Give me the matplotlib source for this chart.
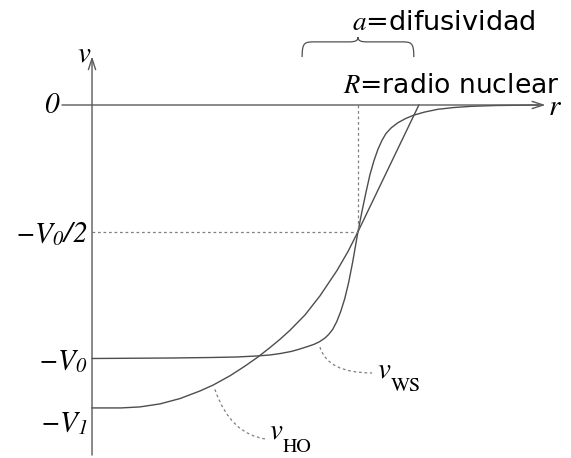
import matplotlib.pyplot as plt
from matplotlib.path import Path
from matplotlib.patches import PathPatch

# italic serif for symbols and digits, upright serif through \mathsf
plt.rcParams["mathtext.fontset"] = "custom"
plt.rcParams["mathtext.rm"] = "STIXGeneral:italic"
plt.rcParams["mathtext.it"] = "STIXGeneral:italic"
plt.rcParams["mathtext.sf"] = "STIXGeneral"
plt.rcParams["font.family"] = "DejaVu Sans"

# r in units of the nuclear radius R, potential in units of V0
R = 1.0
a = 0.21
V1 = 1.195

# harmonic oscillator well
r_ho = [0.00, 0.109, 0.18, 0.256, 0.331, 0.406, 0.455, 0.519, 0.575,
        0.624, 0.669, 0.707, 0.744, 0.801, 0.857, 0.921, 0.962, 1.00,
        1.113, 1.229]
v_ho = [-1.195, -1.195, -1.191, -1.179, -1.158, -1.128, -1.105, -1.068,
        -1.030, -0.994, -0.957, -0.924, -0.889, -0.828, -0.753, -0.653,
        -0.579, -0.50, -0.253, 0.0]

# Woods-Saxon well
r_ws = [0.00, 0.30, 0.45, 0.545, 0.62, 0.67, 0.71, 0.75, 0.78, 0.81,
        0.835, 0.855, 0.875, 0.89, 0.905, 0.92, 0.935, 0.95, 0.965, 0.98,
        1.00, 1.015, 1.03, 1.045, 1.06, 1.075, 1.09, 1.105, 1.125, 1.15,
        1.18, 1.21, 1.25, 1.30, 1.36, 1.43, 1.52, 1.68]
v_ws = [-1.0, -0.998, -0.996, -0.994, -0.990, -0.986, -0.980, -0.972,
        -0.963, -0.953, -0.944, -0.934, -0.920, -0.905, -0.885, -0.855,
        -0.815, -0.765, -0.70, -0.62, -0.50, -0.42, -0.345, -0.275, -0.22,
        -0.175, -0.14, -0.113, -0.09, -0.07, -0.053, -0.04, -0.028,
        -0.017, -0.010, -0.005, -0.002, 0.0]

fig = plt.figure(figsize=(5.71, 4.58), dpi=100)
ax = fig.add_axes([0, 0, 1, 1])
ax.set_xlim(-0.346, 1.801)
ax.set_ylim(-1.3925, 0.4142)
ax.axis("off")

curve = dict(color="#4d4d4d", lw=1.0, solid_joinstyle="round")
ax.plot(r_ho, v_ho, **curve)
ax.plot(r_ws, v_ws, **curve)

# coordinate axes with arrow heads
arr = dict(arrowstyle="->,head_length=0.4,head_width=0.13", color="#5a5a5a",
           lw=1.0, shrinkA=0, shrinkB=0, mutation_scale=20)
ax.annotate("", xy=(1.705, 0), xytext=(-0.113, 0), arrowprops=arr)
ax.annotate("", xy=(0, 0.192), xytext=(0, -1.381), arrowprops=arr)

# guides to the half-depth point
guide = dict(color="#808080", lw=0.9, dashes=(2.2, 2.2))
ax.plot([R, R], [0, -0.5], **guide)
ax.plot([0, R], [-0.5, -0.5], **guide)


# dashed leaders to the curve names
def leader(p0, c, p1):
    path = Path([p0, c, p1], [Path.MOVETO, Path.CURVE3, Path.CURVE3])
    ax.add_patch(PathPatch(path, fill=False, edgecolor="#808080", lw=0.9,
                           linestyle=(0, (2.2, 2.2))))


leader((0.857, -0.955), (0.885, -1.057), (1.053, -1.057))
leader((0.462, -1.122), (0.52, -1.30), (0.656, -1.318))

# brace spanning the surface thickness
yb0, yb1, ytip = 0.189, 0.249, 0.268
brace = Path(
    [(R - a, yb0), (R - a, yb1), (R - a + 0.01, yb1), (R - a + 0.05, yb1),
     (R - 0.035, yb1), (R - 0.01, yb1), (R, yb1 + 0.004), (R, ytip),
     (R, yb1 + 0.004), (R + 0.01, yb1), (R + 0.035, yb1),
     (R + a - 0.05, yb1), (R + a - 0.01, yb1), (R + a, yb1), (R + a, yb0)],
    [Path.MOVETO, Path.CURVE4, Path.CURVE4, Path.CURVE4,
     Path.LINETO, Path.CURVE4, Path.CURVE4, Path.CURVE4,
     Path.CURVE4, Path.CURVE4, Path.CURVE4,
     Path.LINETO, Path.CURVE4, Path.CURVE4, Path.CURVE4])
ax.add_patch(PathPatch(brace, fill=False, edgecolor="#505050", lw=0.9))

# axis labels
fs = 21
ax.text(-0.117, -0.032, r"$0$", fontsize=fs, ha="right", va="baseline")
ax.text(-0.019, -0.540, r"$-V_{0}/2$", fontsize=fs, ha="right",
        va="baseline")
ax.text(-0.015, -1.040, r"$-V_{0}$", fontsize=fs, ha="right", va="baseline")
ax.text(-0.015, -1.285, r"$-V_{1}$", fontsize=fs, ha="right", va="baseline")
ax.text(-0.056, 0.170, r"$v$", fontsize=fs, ha="left", va="baseline")
ax.text(1.715, -0.040, r"$r$", fontsize=fs, ha="left", va="baseline")

# curve names, with a deep upright subscript
for x, y, sub in [(1.071, -1.073, "WS"), (0.665, -1.315, "HO")]:
    t = ax.text(x, y, r"$v$", fontsize=fs, ha="left", va="baseline")
    ax.annotate(sub, xy=(1, 0), xycoords=t, xytext=(-0.5, -5.5),
                textcoords="offset points", fontsize=14.5,
                family="STIXGeneral", va="baseline", ha="left")

ax.text(0.977, 0.296, r"$a$=difusividad", fontsize=19.5, ha="left",
        va="baseline")
ax.text(0.944, 0.048, r"$R$=radio nuclear", fontsize=19.2, ha="left",
        va="baseline")

fig.savefig("out.png", dpi=100)
